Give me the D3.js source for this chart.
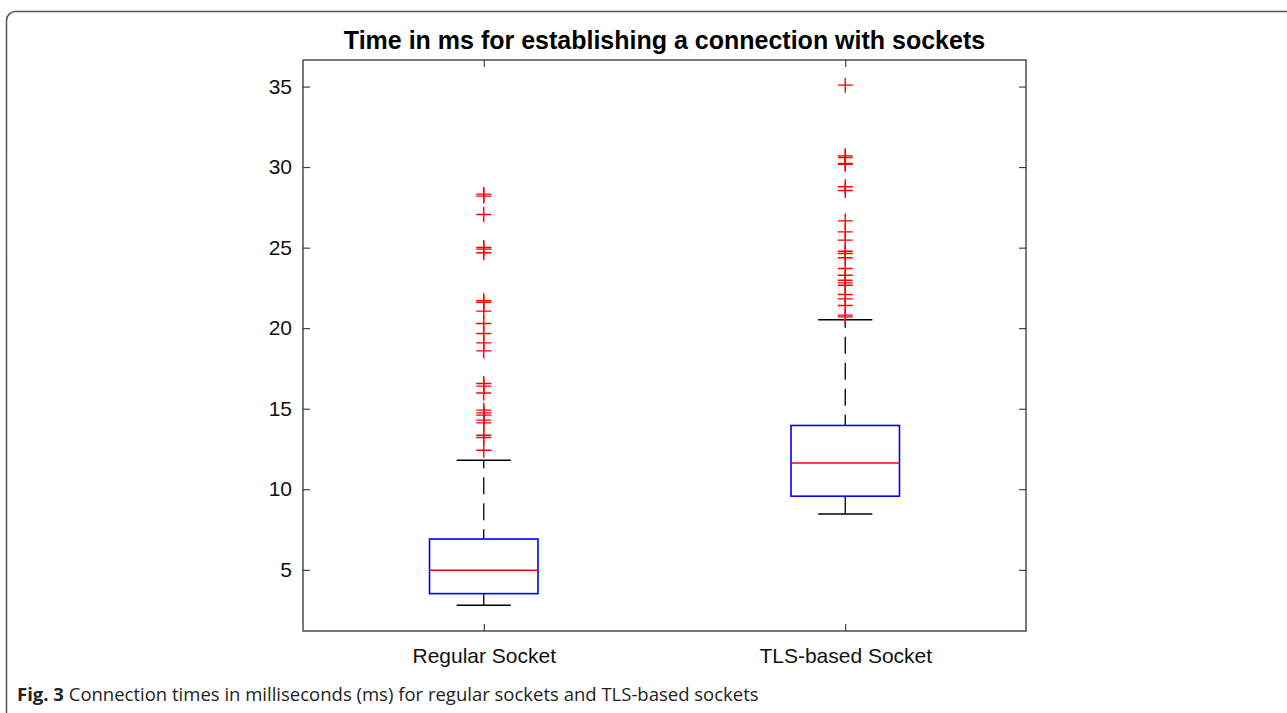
<!DOCTYPE html>
<html>
<head>
<meta charset="utf-8">
<script src="https://cdn.jsdelivr.net/npm/d3@7"></script>
<style>
  body { margin: 0; background: #fff; }
  svg { display: block; }
  .axis text { font-family: "Liberation Sans", Arial, sans-serif; font-size: 21px; fill: #111; }
  .axis line { stroke: #222; }
</style>
</head>
<body>
<svg width="1287" height="713"></svg>
<script>
// box statistics (ms)
const categories = ["Regular Socket", "TLS-based Socket"];
const lowerWhisker = [2.8, 8.47];
const q1 = [3.52, 9.57];
const median = [4.97, 11.63];
const q3 = [6.91, 13.96];
const upperWhisker = [11.8, 20.52];

const regularOutliers = [28.32, 28.2, 27.06, 25.01, 24.91, 24.68, 21.7, 21.6, 21.06, 20.29,
  19.67, 19.09, 18.59, 16.57, 16.4, 15.98, 14.91, 14.74, 14.6, 14.29, 14.12, 13.35, 13.21, 12.42];
const tlsOutliers = [35.09, 30.7, 30.6, 30.23, 30.17, 28.78, 28.55, 26.66, 25.98, 25.47, 24.78,
  24.64, 24.37, 23.71, 23.29, 22.98, 22.81, 22.67, 22.09, 21.82, 21.41, 20.81, 20.7];

const yTicks = [5, 10, 15, 20, 25, 30, 35];

const svg = d3.select("svg");
const mLeft = 303, mRight = 1026, mTop = 60, mBottom = 631;

// figure frame (rounded, cut off at the right and bottom)
svg.append("rect")
  .attr("x", 6.5).attr("y", 11.5)
  .attr("width", 1320).attr("height", 760)
  .attr("rx", 9)
  .attr("fill", "none")
  .attr("stroke", "#555")
  .attr("stroke-width", 1.5);

const x = d3.scaleLinear().domain([0.5, 2.5]).range([mLeft, mRight]);
const y = d3.scaleLinear().domain([1.2, 36.65]).range([mBottom, mTop]);

const boxW = 0.3, capW = 0.15;

// axes (ticks inward like matlab)
svg.append("g").attr("class", "axis")
  .attr("transform", "translate(" + mLeft + ",0)")
  .call(d3.axisLeft(y).tickValues(yTicks).tickSize(-7).tickPadding(11))
  .call(g => g.select(".domain").remove());

svg.append("g").attr("class", "axis")
  .attr("transform", "translate(" + mRight + ",0)")
  .call(d3.axisRight(y).tickValues(yTicks).tickSize(-7).tickFormat(""))
  .call(g => g.select(".domain").remove());

svg.append("g").attr("class", "axis")
  .attr("transform", "translate(0," + mBottom + ")")
  .call(d3.axisBottom(x).tickValues([1, 2]).tickSize(-7).tickPadding(17)
    .tickFormat((d, i) => categories[i]))
  .call(g => g.select(".domain").remove());

svg.append("g").attr("class", "axis")
  .attr("transform", "translate(0," + mTop + ")")
  .call(d3.axisTop(x).tickValues([1, 2]).tickSize(-7).tickFormat(""))
  .call(g => g.select(".domain").remove());

svg.append("rect")
  .attr("x", mLeft).attr("y", mTop)
  .attr("width", mRight - mLeft).attr("height", mBottom - mTop)
  .attr("fill", "none").attr("stroke", "#222").attr("stroke-width", 1.2);

// boxes
const idx = [0, 1];
const boxes = svg.append("g");

// dashed whiskers
boxes.selectAll(".wlo").data(idx).enter().append("line")
  .attr("x1", i => x(i + 1)).attr("x2", i => x(i + 1))
  .attr("y1", i => y(lowerWhisker[i])).attr("y2", i => y(q1[i]))
  .attr("stroke", "#000").attr("stroke-width", 1.3).attr("stroke-dasharray", "17,9");
boxes.selectAll(".whi").data(idx).enter().append("line")
  .attr("x1", i => x(i + 1)).attr("x2", i => x(i + 1))
  .attr("y1", i => y(upperWhisker[i])).attr("y2", i => y(q3[i]))
  .attr("stroke", "#000").attr("stroke-width", 1.3).attr("stroke-dasharray", "17,9")
  .attr("stroke-dashoffset", 9);

// caps
[lowerWhisker, upperWhisker].forEach(arr => {
  boxes.selectAll(null).data(idx).enter().append("line")
    .attr("x1", i => x(i + 1 - capW / 2)).attr("x2", i => x(i + 1 + capW / 2))
    .attr("y1", i => y(arr[i])).attr("y2", i => y(arr[i]))
    .attr("stroke", "#000").attr("stroke-width", 1.5);
});

boxes.selectAll(".box").data(idx).enter().append("rect")
  .attr("x", i => x(i + 1 - boxW / 2))
  .attr("width", i => x(i + 1 + boxW / 2) - x(i + 1 - boxW / 2))
  .attr("y", i => y(q3[i]))
  .attr("height", i => y(q1[i]) - y(q3[i]))
  .attr("fill", "none").attr("stroke", "#0000ff").attr("stroke-width", 1.6);

boxes.selectAll(".med").data(idx).enter().append("line")
  .attr("x1", i => x(i + 1 - boxW / 2)).attr("x2", i => x(i + 1 + boxW / 2))
  .attr("y1", i => y(median[i])).attr("y2", i => y(median[i]))
  .attr("stroke", "#ff0000").attr("stroke-width", 1.5);

// outliers as red plus markers
const outliers = regularOutliers.map(v => ({ k: 1, v: v }))
  .concat(tlsOutliers.map(v => ({ k: 2, v: v })));
svg.append("g").selectAll("path").data(outliers).enter().append("path")
  .attr("transform", d => "translate(" + x(d.k) + "," + y(d.v) + ")")
  .attr("d", "M-7.5,0H7.5M0,-7.5V7.5")
  .attr("stroke", "#ff0000").attr("stroke-width", 1.4).attr("fill", "none");

// title
svg.append("text")
  .attr("x", (mLeft + mRight) / 2).attr("y", 49)
  .attr("text-anchor", "middle")
  .style("font-family", "Liberation Sans, Arial, sans-serif")
  .style("font-weight", "bold").style("font-size", "25px").style("fill", "#000")
  .text("Time in ms for establishing a connection with sockets");

// caption
const cap = svg.append("text")
  .attr("x", 17).attr("y", 701)
  .style("font-family", "Open Sans, sans-serif")
  .style("font-size", "18.5px").style("fill", "#222");
cap.append("tspan").style("font-weight", "bold").text("Fig. 3");
cap.append("tspan").text(" Connection times in milliseconds (ms) for regular sockets and TLS-based sockets");
</script>
</body>
</html>
